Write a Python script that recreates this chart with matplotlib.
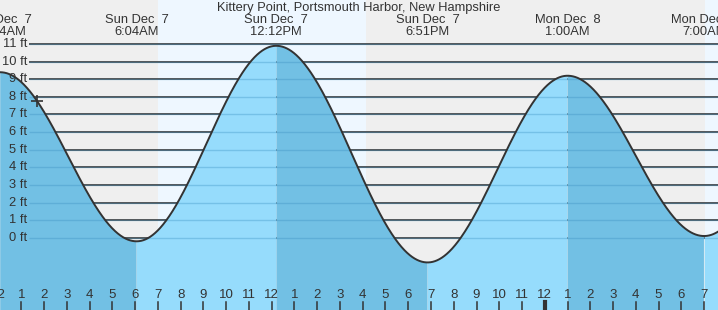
import numpy as np
import matplotlib
matplotlib.use("Agg")
import matplotlib.pyplot as plt

plt.rcParams['font.family'] = ['Liberation Sans', 'DejaVu Sans']

# tide extremes, hours after midnight Dec 7
ext_hours = [0.067, 6.067, 12.2, 18.85, 25.0, 31.0, 37.2]
ext_feet = [9.4, -0.2, 10.9, -1.4, 9.2, 0.1, 10.5]
ext_labels = ["Sun Dec  7\n12:04AM", "Sun Dec  7\n6:04AM", "Sun Dec  7\n12:12PM",
              "Sun Dec  7\n6:51PM", "Mon Dec  8\n1:00AM", "Mon Dec  8\n7:00AM"]
# daylight (sunrise, sunset) in hours
daylight = [(7.0, 16.13), (31.03, 40.1)]
now_hour = 1.69
ft_levels = list(range(0, 12))
hour_ticks = list(range(0, 32))
hour_names = [str((h - 1) % 12 + 1) for h in hour_ticks]
title = "Kittery Point, Portsmouth Harbor, New Hampshire"

px_per_hour = 22.76
x0 = 1.45 / px_per_hour
x1 = x0 + 718 / px_per_hour


def tide(t):
    t = np.atleast_1d(t)
    out = np.full(t.shape, ext_feet[0], dtype=float)
    for i in range(len(ext_hours) - 1):
        ta, tb = ext_hours[i], ext_hours[i + 1]
        ha, hb = ext_feet[i], ext_feet[i + 1]
        m = (t >= ta) & (t <= tb)
        ph = np.pi * (t[m] - ta) / (tb - ta)
        out[m] = (ha + hb) / 2 + (ha - hb) / 2 * np.cos(ph)
    return out


fig = plt.figure(figsize=(7.18, 3.10), dpi=100)
ax = fig.add_axes([0, 0, 1, 1])
ax.set_xlim(x0, x1)
ax.set_ylim(-4.1, 13.5)
ax.axis('off')

night = '#efefef'
day = '#eef7ff'
ax.axvspan(x0, x1, color=night, zorder=0)
for a, b in daylight:
    ax.axvspan(a, b, color=day, zorder=0, lw=0)

ytr = ax.get_yaxis_transform()
ax.hlines(ft_levels, 29 / 718, 1, transform=ytr, color='#2a2a2a', lw=1.1, zorder=1)

rise_col = '#96dcfc'
fall_col = '#72c0e4'
t = np.linspace(x0 - 0.5, x1 + 0.5, 3000)
h = tide(t)
m = t <= ext_hours[0]
ax.fill_between(t[m], -10, h[m], color=fall_col, lw=0, zorder=2)
for i in range(len(ext_hours) - 1):
    ta, tb = ext_hours[i], ext_hours[i + 1]
    col = rise_col if ext_feet[i + 1] > ext_feet[i] else fall_col
    m = (t >= ta) & (t <= tb)
    ax.fill_between(t[m], -10, h[m], color=col, lw=0, zorder=2)

ax.hlines(ft_levels, 29 / 718, 1, transform=ytr, color='#3a8fc0', alpha=0.35, lw=1, zorder=3)
ax.plot(t, h, color='#333333', lw=1.4, zorder=4)

for lv in ft_levels:
    ax.text(27 / 718, lv, f"{lv} ft", transform=ytr, ha='right', va='center',
            fontsize=9.3, color='#333333', zorder=5)

xtr = ax.get_xaxis_transform()
for hh, name in zip(hour_ticks, hour_names):
    ax.text(hh, 1 - 295 / 310, name, transform=xtr, ha='center', va='center',
            fontsize=9.5, color='#333333', zorder=5)
    lw = 3 if hh % 24 == 0 else 1.1
    ax.plot([hh, hh], [0, 8 / 310], transform=xtr, color='#333333', lw=lw, zorder=5)

for hh, lab in zip(ext_hours, ext_labels):
    top, bot = lab.split("\n")
    ax.text(hh, 1 - 20 / 310, top, transform=xtr, ha='center', va='center',
            fontsize=9.3, color='#333333', zorder=5)
    ax.text(hh, 1 - 32 / 310, bot, transform=xtr, ha='center', va='center',
            fontsize=9.3, color='#333333', zorder=5)

ax.text(0.5, 1 - 8 / 310, title, transform=ax.transAxes, ha='center', va='center',
        fontsize=9.3, color='#333333', zorder=5)

ax.plot([now_hour], tide(np.array([now_hour])), marker='+', ms=9, mew=1.2,
        color='#333333', zorder=6)

fig.savefig('out.png', dpi=100)
